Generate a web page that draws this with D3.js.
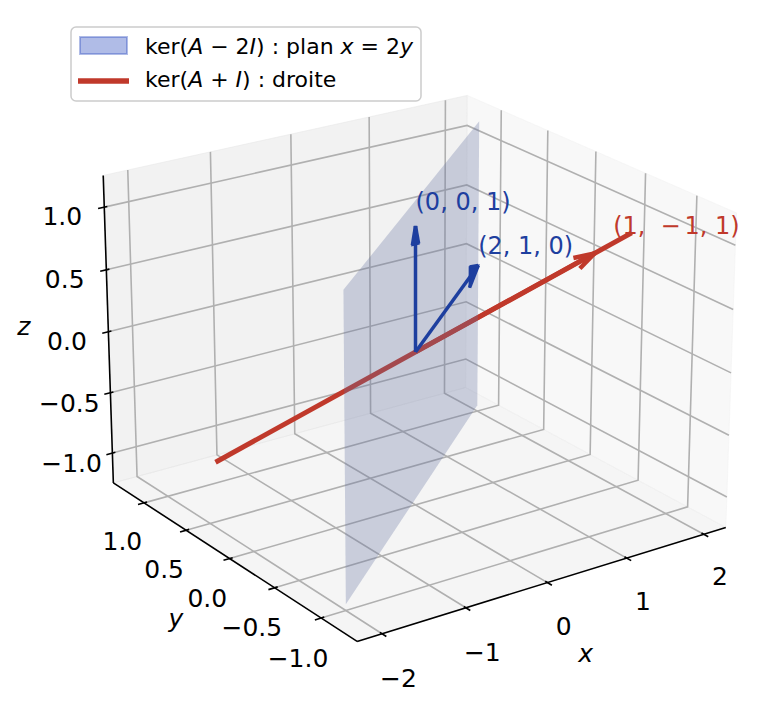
<!DOCTYPE html>
<html>
<head>
<meta charset="utf-8">
<script src="https://cdn.jsdelivr.net/npm/d3@7"></script>
<style>
  body { margin: 0; background: #fff; }
  text { font-family: "DejaVu Sans", sans-serif; }
</style>
</head>
<body>
<svg width="767" height="723" id="mainsvg"></svg>
<script>
// view of the 3d box (elevation / azimuth in degrees)
const ELEV = 22, AZIM = -125, DIST = 10;

// data
const xLim = [-2.2, 2.2];
const yLim = [-1.32, 1.32];
const zLim = [-1.2, 1.2];
const xTicks = [-2, -1, 0, 1, 2];
const yTicks = [-1, -0.5, 0, 0.5, 1];
const zTicks = [-1, -0.5, 0, 0.5, 1];
const planeS = [-1, 1];        // plane x = 2y : points (2s, s, t)
const planeT = [-1.2, 1.2];
const lineDir = [1, -1, 1];    // droite ker(A + I)
const lineT = [-1.2, 1.2];
const blueVecs = [[0, 0, 1], [2, 1, 0]];
const blueLabels = ['(0, 0, 1)', '(2, 1, 0)'];
const redVec = [1, -1, 1];

const BLUE = '#1e3f9f', RED = '#c0392b';

const svg = d3.select('svg');

// ---- projection (mimics matplotlib's persp projection) ----
const aspect = [4, 4, 3].map(v => v * 1.8294640721620434 / Math.hypot(4, 4, 3));
const xs = d3.scaleLinear().domain(xLim).range([0, aspect[0]]);
const ys = d3.scaleLinear().domain(yLim).range([0, aspect[1]]);
const zs = d3.scaleLinear().domain(zLim).range([0, aspect[2]]);
const dot = (p, q) => p[0] * q[0] + p[1] * q[1] + p[2] * q[2];
const cross = (p, q) => [p[1] * q[2] - p[2] * q[1], p[2] * q[0] - p[0] * q[2], p[0] * q[1] - p[1] * q[0]];
const er = ELEV * Math.PI / 180, ar = AZIM * Math.PI / 180;
const w = [Math.cos(er) * Math.cos(ar), Math.cos(er) * Math.sin(ar), Math.sin(er)];
const R = aspect.map(a => a / 2);
const eye = R.map((r, i) => r + DIST * w[i]);
let u = cross([0, 0, 1], w);
const un = Math.hypot(...u);
u = u.map(c => c / un);
const v = cross(w, u);

const K = 3755, cx = 415.5, cy = 352;
const sx = d3.scaleLinear().domain([-1, 1]).range([cx - K, cx + K]);
const sy = d3.scaleLinear().domain([-1, 1]).range([cy + K, cy - K]);

function proj(p) {
  const b = [xs(p[0]), ys(p[1]), zs(p[2])];
  const d = b.map((c, i) => c - eye[i]);
  const Z = dot(w, d);
  return [sx(dot(u, d) / -Z), sy(dot(v, d) / -Z)];
}
const line3 = d3.line().x(d => proj(d)[0]).y(d => proj(d)[1]);

// pane limits (matplotlib pads by range/48) and tick deltas
const pad = l => [l[0] - (l[1] - l[0]) / 48, l[1] + (l[1] - l[0]) / 48];
const xP = pad(xLim), yP = pad(yLim), zP = pad(zLim);
const dX = (xLim[1] - xLim[0]) / 12, dY = (yLim[1] - yLim[0]) / 12, dZ = (zLim[1] - zLim[0]) / 12;

// ---- panes ----
const panes = [
  { pts: [[xP[0], yP[0], zP[0]], [xP[1], yP[0], zP[0]], [xP[1], yP[1], zP[0]], [xP[0], yP[1], zP[0]]], c: 'rgba(236,236,236,0.5)' },
  { pts: [[xP[0], yP[1], zP[0]], [xP[1], yP[1], zP[0]], [xP[1], yP[1], zP[1]], [xP[0], yP[1], zP[1]]], c: 'rgba(230,230,230,0.5)' },
  { pts: [[xP[1], yP[0], zP[0]], [xP[1], yP[1], zP[0]], [xP[1], yP[1], zP[1]], [xP[1], yP[0], zP[1]]], c: 'rgba(242,242,242,0.5)' }
];
svg.append('g').selectAll('path').data(panes).join('path')
  .attr('d', d => line3(d.pts) + 'Z')
  .attr('fill', d => d.c).attr('stroke', d => d.c).attr('stroke-width', 1);

// ---- grid ----
const grid = [];
xTicks.forEach(t => grid.push([[t, yP[0], zP[0]], [t, yP[1], zP[0]], [t, yP[1], zP[1]]]));
yTicks.forEach(t => grid.push([[xP[0], t, zP[0]], [xP[1], t, zP[0]], [xP[1], t, zP[1]]]));
zTicks.forEach(t => grid.push([[xP[0], yP[1], t], [xP[1], yP[1], t], [xP[1], yP[0], t]]));
svg.append('g').selectAll('path').data(grid).join('path')
  .attr('d', line3).attr('fill', 'none').attr('stroke', '#b0b0b0').attr('stroke-width', 1.6);

// ---- axis lines and ticks ----
const axG = svg.append('g').attr('stroke', '#000').attr('fill', 'none');
const axes = [
  [[xP[0], yP[0], zP[0]], [xP[1], yP[0], zP[0]]],
  [[xP[0], yP[0], zP[0]], [xP[0], yP[1], zP[0]]],
  [[xP[0], yP[1], zP[0]], [xP[0], yP[1], zP[1]]]
];
axG.selectAll('.axline').data(axes).join('path').attr('class', 'axline')
  .attr('d', line3).attr('stroke-width', 1.6);
const tickSegs = [];
xTicks.forEach(t => tickSegs.push([[t, yP[0] - 0.2 * dY, zP[0]], [t, yP[0] + 0.1 * dY, zP[0]]]));
yTicks.forEach(t => tickSegs.push([[xP[0] - 0.2 * dX, t, zP[0]], [xP[0] + 0.1 * dX, t, zP[0]]]));
zTicks.forEach(t => tickSegs.push([[xP[0] - 0.2 * dX, yP[1], t], [xP[0] + 0.1 * dX, yP[1], t]]));
axG.selectAll('.tick').data(tickSegs).join('path').attr('class', 'tick')
  .attr('d', line3).attr('stroke-width', 1.6);

// ---- tick labels ----
const fmtInt = d3.format('d'), fmt1 = d3.format('.1f');
const tickLabels = [];
xTicks.forEach(t => tickLabels.push({ p: [t, yP[0] - 0.76 * dY, zP[0] - 1.35 * dZ], s: fmtInt(t) }));
yTicks.forEach(t => tickLabels.push({ p: [xP[0] - 0.75 * dX, t, zP[0] - 1.33 * dZ], s: fmt1(t) }));
zTicks.forEach(t => tickLabels.push({ p: [xP[0] - 1.35 * dX, yP[1], t], s: fmt1(t) }));
svg.append('g').selectAll('text').data(tickLabels).join('text')
  .attr('x', d => proj(d.p)[0]).attr('y', d => proj(d.p)[1])
  .attr('text-anchor', 'middle').attr('dominant-baseline', 'central')
  .attr('font-size', 25).attr('fill', '#000').text(d => d.s);

const axisLabels = [
  { p: [0, yP[0] - 1.75 * dY, zP[0] - 1.9 * dZ], s: 'x' },
  { p: [xP[0] - 1.77 * dX, 0, zP[0] - 1.8 * dZ], s: 'y' },
  { p: [xP[0] - 1.75 * dX, yP[1] + 1.75 * dY, 0], s: 'z' }
];
svg.append('g').selectAll('text').data(axisLabels).join('text')
  .attr('x', d => proj(d.p)[0]).attr('y', d => proj(d.p)[1])
  .attr('text-anchor', 'middle').attr('dominant-baseline', 'central')
  .attr('font-size', 25).attr('font-style', 'italic').text(d => d.s);

// ---- arrows (quiver-like heads) ----
function heads(vec, ratio) {
  const n = Math.hypot(vec[0], vec[1]);
  const xp = n ? vec[1] / n : 0, yp = n ? -vec[0] / n : 1;
  const c = Math.cos(Math.PI / 12), s0 = Math.sin(Math.PI / 12);
  return [1, -1].map(sg => {
    const s = sg * s0;
    const M = [[c + xp * xp * (1 - c), xp * yp * (1 - c), yp * s],
               [xp * yp * (1 - c), c + yp * yp * (1 - c), -xp * s],
               [-yp * s, xp * s, c]];
    const dir = M.map(r => dot(r, vec));
    return vec.map((q, i) => q - ratio * dir[i]);
  });
}
function arrowSegs(vec, ratio) {
  const h = heads(vec, ratio);
  return [[[0, 0, 0], vec], [vec, h[0]], [vec, h[1]]];
}

// red line and arrow (below the plane)
svg.append('path')
  .attr('d', line3(lineT.map(t => lineDir.map(c => c * t))))
  .attr('stroke', RED).attr('stroke-width', 5).attr('fill', 'none');
svg.append('g').selectAll('path').data(arrowSegs(redVec, 0.1)).join('path')
  .attr('d', line3).attr('stroke', RED).attr('stroke-width', 4.5).attr('fill', 'none');

// plane x = 2y
const planePts = [[planeS[0], planeT[0]], [planeS[1], planeT[0]], [planeS[1], planeT[1]], [planeS[0], planeT[1]]]
  .map(([s, t]) => [2 * s, s, t]);
svg.append('path').attr('d', line3(planePts) + 'Z')
  .attr('fill', 'rgb(100,112,158)').attr('fill-opacity', 0.3).attr('stroke', 'none');

// blue arrows, head drawn filled
blueVecs.forEach(vec => {
  const g = svg.append('g');
  const h = heads(vec, 0.15);
  g.append('path').attr('d', line3([vec, h[0], h[1]]) + 'Z')
    .attr('fill', BLUE).attr('stroke', BLUE).attr('stroke-width', 2).attr('stroke-linejoin', 'miter');
  g.selectAll('.seg').data(arrowSegs(vec, 0.15)).join('path').attr('class', 'seg')
    .attr('d', line3).attr('stroke', BLUE).attr('stroke-width', 3.5).attr('fill', 'none');
});

// annotations
const blueDx = [0, -6];
svg.append('g').selectAll('text').data(blueVecs).join('text')
  .attr('x', (d, i) => proj(d.map(c => c * 1.1))[0] + blueDx[i])
  .attr('y', d => proj(d.map(c => c * 1.1))[1] - 3)
  .attr('font-size', 24).attr('fill', BLUE)
  .text((d, i) => blueLabels[i]);
const rl = proj([1.1 * redVec[0], 1.1 * redVec[1], 1.15 * redVec[2]]);
const rt = svg.append('text').attr('x', rl[0]).attr('y', rl[1] - 3)
  .attr('font-size', 24).attr('fill', RED);
rt.append('tspan').text('(1,');
rt.append('tspan').attr('dx', 15).text('\u2212');
rt.append('tspan').attr('dx', 4).text('1, 1)');

// ---- legend ----
const lg = svg.append('g');
lg.append('rect').attr('x', 71).attr('y', 27).attr('width', 350).attr('height', 74).attr('rx', 5)
  .attr('fill', '#fff').attr('fill-opacity', 0.8).attr('stroke', '#cccccc').attr('stroke-width', 1.5);
lg.append('rect').attr('x', 80).attr('y', 37).attr('width', 47).attr('height', 17)
  .attr('fill', 'rgb(48,80,192)').attr('fill-opacity', 0.38)
  .attr('stroke', 'rgb(48,80,192)').attr('stroke-opacity', 0.38).attr('stroke-width', 2);
lg.append('line').attr('x1', 78).attr('x2', 129).attr('y1', 81).attr('y2', 81)
  .attr('stroke', RED).attr('stroke-width', 5.5);
const legendRows = [
  [['ker(', 0], ['A', 1], [' \u2212 2', 0], ['I', 1], [') : plan ', 0], ['x', 1], [' = 2', 0], ['y', 1]],
  [['ker(', 0], ['A', 1], [' + ', 0], ['I', 1], [') : droite', 0]]
];
legendRows.forEach((row, i) => {
  const t = lg.append('text').attr('x', 145).attr('y', 54 + i * 33)
    .attr('font-size', 22).attr('fill', '#000').attr('xml:space', 'preserve');
  row.forEach(([s, it]) => t.append('tspan').attr('font-style', it ? 'italic' : 'normal').text(s));
});
</script>
</body>
</html>
